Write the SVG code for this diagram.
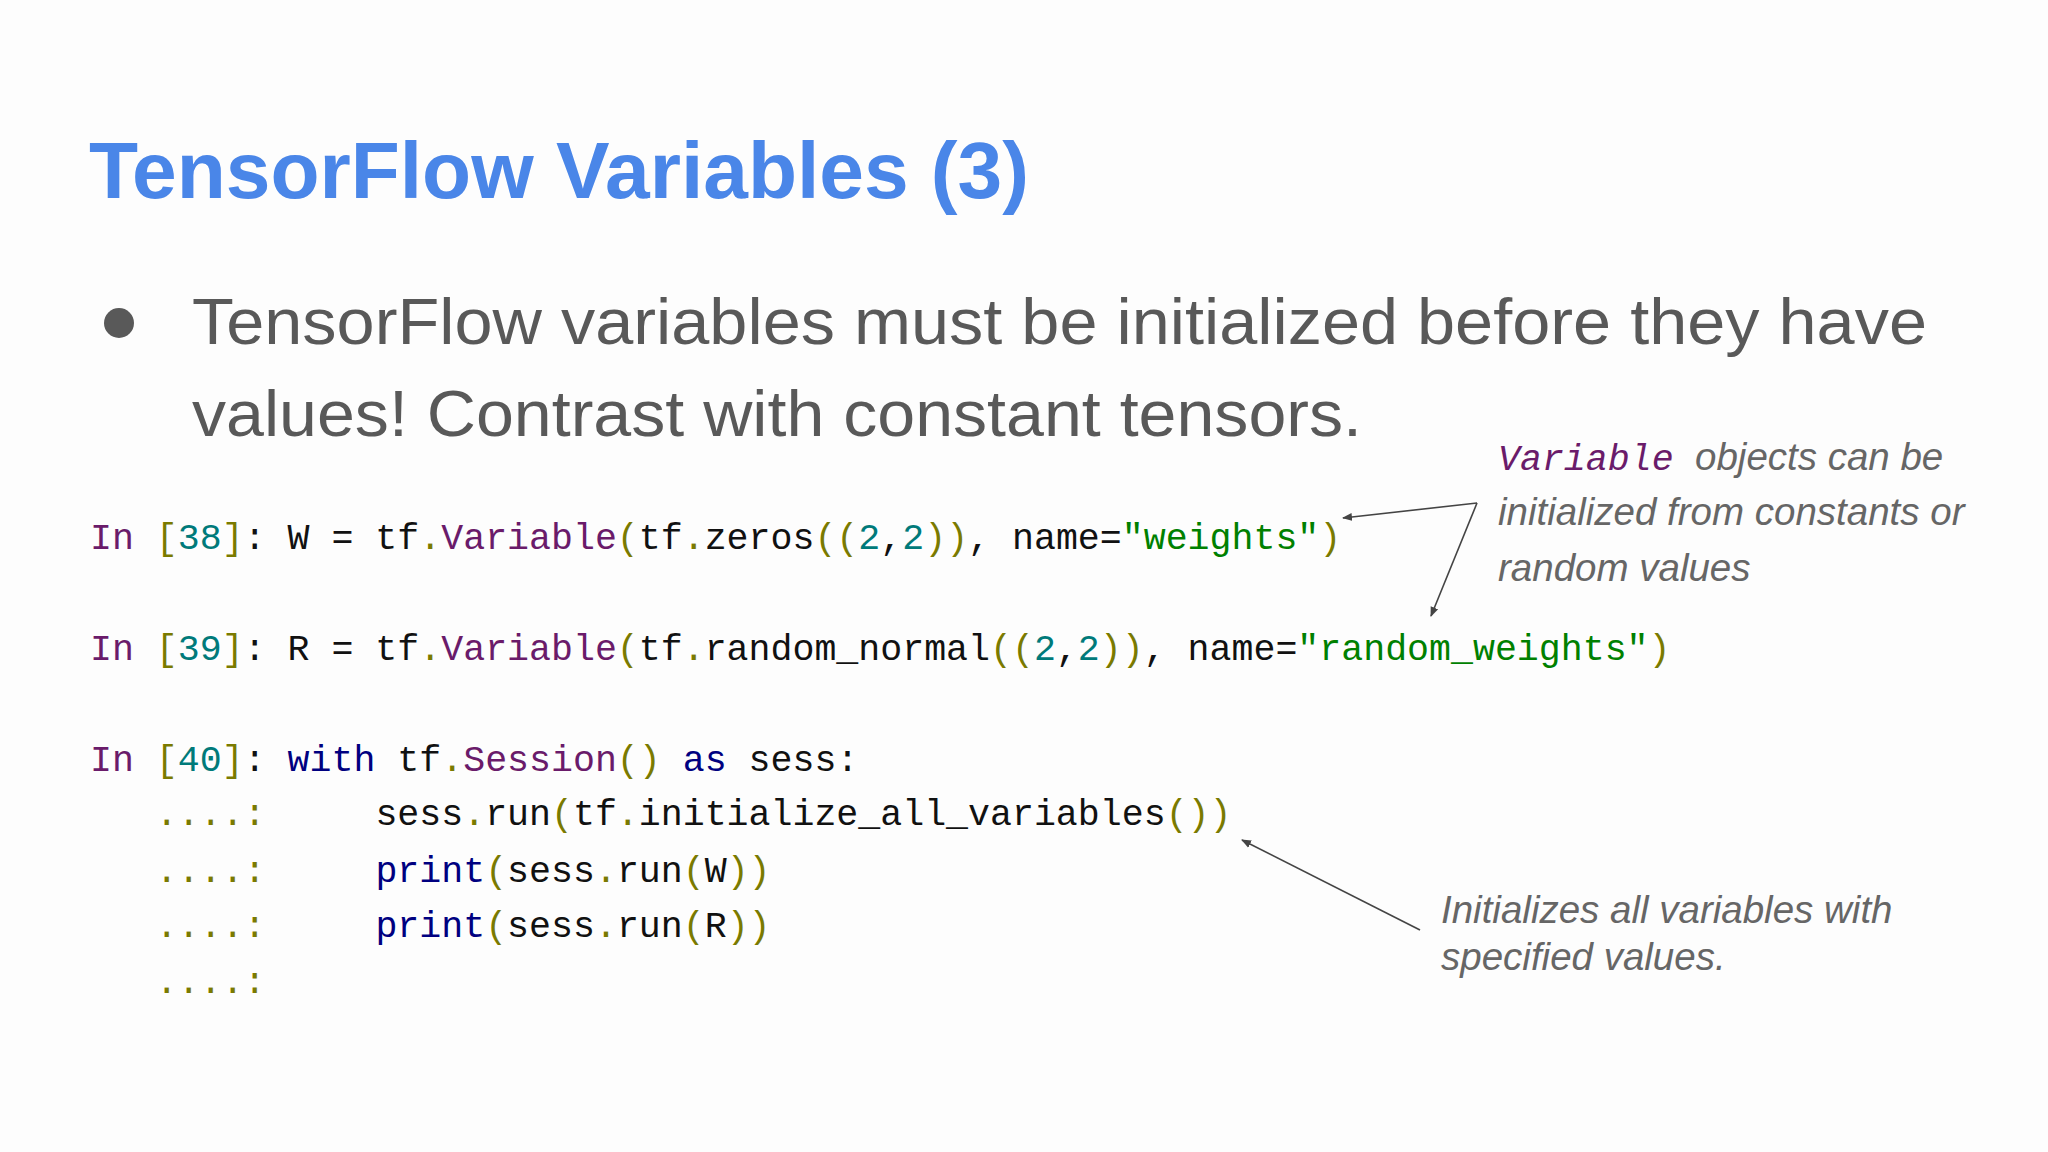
<svg xmlns="http://www.w3.org/2000/svg" width="2048" height="1152" viewBox="0 0 2048 1152">
<defs>
<marker id="ah" viewBox="0 0 10 10" refX="9" refY="5" markerWidth="10" markerHeight="10" markerUnits="userSpaceOnUse" orient="auto"><path d="M0,1 L10,5 L0,9 Z" fill="#444"/></marker>
<style>
.title{font-family:"Liberation Sans",Arial,sans-serif;font-weight:bold;font-size:80px;fill:#4a86e8}
.body{font-family:"Liberation Sans",Arial,sans-serif;font-size:65px;fill:#595959}
.code{font-family:"Liberation Mono","DejaVu Sans Mono",monospace;font-size:36.6px;fill:#111;white-space:pre}
.note{font-family:"Liberation Sans",Arial,sans-serif;font-style:italic;font-size:38.5px;fill:#666}
.p{fill:#6a1b6a}.o{fill:#7a7a00}.t{fill:#007a7a}.g{fill:#008000}.n{fill:#000080}
.conn{stroke:#444;stroke-width:1.6;fill:none;marker-end:url(#ah)}
</style>
</defs>
<rect width="2048" height="1152" fill="#fdfdfd"/>
<g id="title"><text class="title" x="89" y="198" textLength="940" lengthAdjust="spacingAndGlyphs">TensorFlow Variables (3)</text></g>
<g id="bullet">
<circle cx="119" cy="323" r="15" fill="#595959"/>
<text class="body" x="192" y="344" textLength="1735" lengthAdjust="spacingAndGlyphs">TensorFlow variables must be initialized before they have</text>
<text class="body" x="192" y="436" textLength="1170" lengthAdjust="spacingAndGlyphs">values! Contrast with constant tensors.</text>
</g>
<g id="code" class="code">
<text xml:space="preserve" x="90" y="549"><tspan class="p">In</tspan> <tspan class="o">[</tspan><tspan class="t">38</tspan><tspan class="o">]</tspan>: W = tf<tspan class="o">.</tspan><tspan class="p">Variable</tspan><tspan class="o">(</tspan>tf<tspan class="o">.</tspan>zeros<tspan class="o">((</tspan><tspan class="t">2</tspan>,<tspan class="t">2</tspan><tspan class="o">))</tspan>, name=<tspan class="g">"weights"</tspan><tspan class="o">)</tspan></text>
<text xml:space="preserve" x="90" y="660"><tspan class="p">In</tspan> <tspan class="o">[</tspan><tspan class="t">39</tspan><tspan class="o">]</tspan>: R = tf<tspan class="o">.</tspan><tspan class="p">Variable</tspan><tspan class="o">(</tspan>tf<tspan class="o">.</tspan>random_normal<tspan class="o">((</tspan><tspan class="t">2</tspan>,<tspan class="t">2</tspan><tspan class="o">))</tspan>, name=<tspan class="g">"random_weights"</tspan><tspan class="o">)</tspan></text>
<text xml:space="preserve" x="90" y="771"><tspan class="p">In</tspan> <tspan class="o">[</tspan><tspan class="t">40</tspan><tspan class="o">]</tspan>: <tspan class="n">with</tspan> tf<tspan class="o">.</tspan><tspan class="p">Session</tspan><tspan class="o">()</tspan> <tspan class="n">as</tspan> sess:</text>
<text xml:space="preserve" x="90" y="825">   <tspan class="o">....:</tspan>     sess<tspan class="o">.</tspan>run<tspan class="o">(</tspan>tf<tspan class="o">.</tspan>initialize_all_variables<tspan class="o">())</tspan></text>
<text xml:space="preserve" x="90" y="882">   <tspan class="o">....:</tspan>     <tspan class="n">print</tspan><tspan class="o">(</tspan>sess<tspan class="o">.</tspan>run<tspan class="o">(</tspan>W<tspan class="o">))</tspan></text>
<text xml:space="preserve" x="90" y="937">   <tspan class="o">....:</tspan>     <tspan class="n">print</tspan><tspan class="o">(</tspan>sess<tspan class="o">.</tspan>run<tspan class="o">(</tspan>R<tspan class="o">))</tspan></text>
<text xml:space="preserve" x="90" y="993">   <tspan class="o">....:</tspan></text>
</g>
<g id="note1">
<text x="1498" y="470"><tspan class="code p" font-style="italic">Variable</tspan><tspan class="note" x="1695">objects can be</tspan></text>
<text class="note" x="1498" y="525">initialized from constants or</text>
<text class="note" x="1498" y="581">random values</text>
</g>
<g id="note2">
<text class="note" x="1441" y="923">Initializes all variables with</text>
<text class="note" x="1441" y="970">specified values.</text>
</g>
<g id="connectors">
<line class="conn" x1="1477" y1="503" x2="1343" y2="518"/>
<line class="conn" x1="1477" y1="503" x2="1431" y2="616"/>
<line class="conn" x1="1420" y1="930" x2="1242" y2="840"/>
</g>
</svg>
